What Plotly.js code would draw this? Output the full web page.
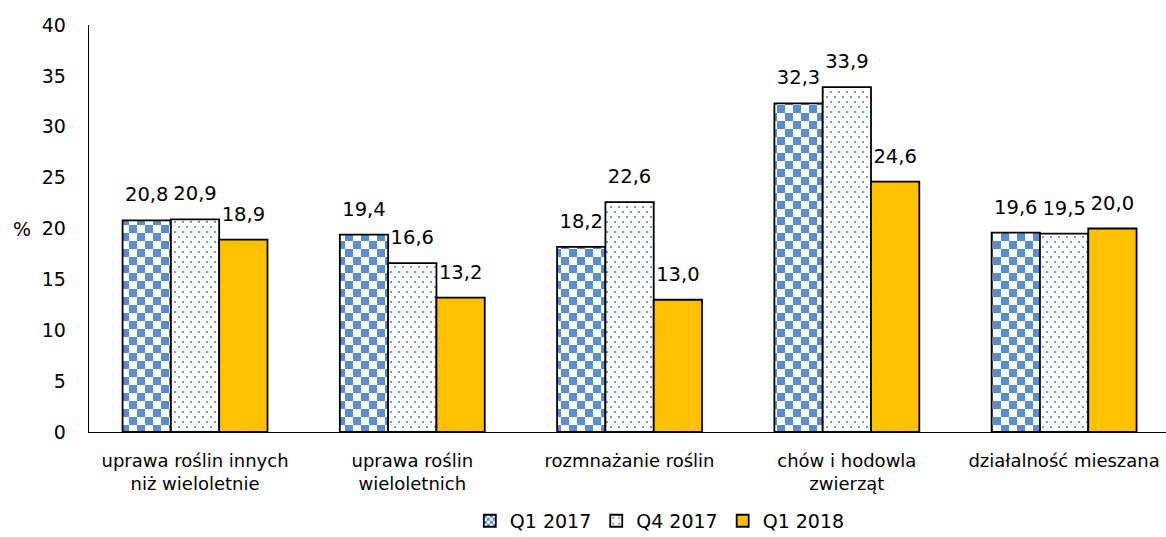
<!DOCTYPE html>
<html>
<head>
<meta charset="utf-8">
<script src="https://cdn.plot.ly/plotly-3.0.1.min.js"></script>
<style>html,body{margin:0;padding:0;background:#fff;}#chart{width:1166px;height:537px;}</style>
</head>
<body>
<div id="chart"></div>
<script>
const categories = ["uprawa roślin innych<br>niż wieloletnie", "uprawa roślin<br>wieloletnich", "rozmnażanie roślin", "chów i hodowla<br>zwierząt", "działalność mieszana"];
const seriesNames = ["Q1 2017", "Q4 2017", "Q1 2018"];
const q1_2017 = [20.8, 19.4, 18.2, 32.3, 19.6];
const q4_2017 = [20.9, 16.6, 22.6, 33.9, 19.5];
const q1_2018 = [18.9, 13.2, 13.0, 24.6, 20.0];
const yTicks = [0, 5, 10, 15, 20, 25, 30, 35, 40];

const FONT = "DejaVu Sans, Verdana, sans-serif";
const xIdx = categories.map((c, i) => i);

function bar(name, y, color) {
  return {
    type: "bar", name: name, x: xIdx, y: y,
    marker: { color: color, line: { color: "#000", width: 1.8 } },
    texttemplate: "%{y:.1f}", textposition: "outside", cliponaxis: false,
    textfont: { family: FONT, size: 19.5, color: "#000" }
  };
}

const data = [
  bar(seriesNames[0], q1_2017, "#ffffff"),
  bar(seriesNames[1], q4_2017, "#ffffff"),
  bar(seriesNames[2], q1_2018, "#ffc000")
];

const layout = {
  width: 1166, height: 537,
  margin: { l: 89, r: 0, t: 25, b: 105 },
  paper_bgcolor: "#fff", plot_bgcolor: "#fff",
  separators: ", ",
  barmode: "group", bargap: 0.333, bargroupgap: 0,
  font: { family: FONT, size: 19, color: "#000" },
  xaxis: {
    range: [-0.488, 4.469], tickvals: xIdx, ticktext: categories,
    showline: true, linecolor: "#000", linewidth: 1.3, ticks: "", showgrid: false, zeroline: false,
    tickfont: { family: FONT, size: 18, color: "#000" }, ticklabelstandoff: 12, automargin: false
  },
  yaxis: {
    range: [0, 40], tickvals: yTicks, ticktext: yTicks.map(String),
    showline: true, linecolor: "#000", linewidth: 1.3, ticks: "", showgrid: false, zeroline: false,
    tickfont: { family: FONT, size: 19, color: "#000" }, ticklabelstandoff: 18, automargin: false
  },
  showlegend: true,
  legend: {
    orientation: "h", x: 0.53, xanchor: "center", xref: "paper",
    yref: "container", y: 0.03, yanchor: "middle",
    font: { family: FONT, size: 19, color: "#000" }, itemwidth: 30, traceorder: "normal"
  },
  annotations: [{
    text: "%", xref: "paper", yref: "y", x: -0.062, y: 20, xanchor: "center", yanchor: "middle",
    showarrow: false, font: { family: FONT, size: 19, color: "#000" }
  }]
};

function addPatterns(svg) {
  const ns = "http://www.w3.org/2000/svg";
  const defs = svg.querySelector("defs");
  function mk(id, w, h, rects, bgc) {
    const pat = document.createElementNS(ns, "pattern");
    pat.setAttribute("id", id);
    pat.setAttribute("patternUnits", "userSpaceOnUse");
    pat.setAttribute("width", w); pat.setAttribute("height", h);
    const bg = document.createElementNS(ns, "rect");
    bg.setAttribute("width", w); bg.setAttribute("height", h); bg.setAttribute("fill", bgc);
    pat.appendChild(bg);
    rects.forEach(r => {
      const e = document.createElementNS(ns, "rect");
      e.setAttribute("x", r[0]); e.setAttribute("y", r[1]);
      e.setAttribute("width", r[2]); e.setAttribute("height", r[3]);
      e.setAttribute("fill", r[4]);
      pat.appendChild(e);
    });
    defs.appendChild(pat);
  }
  const blue = "#558ed5";
  mk("chk", 16, 16, [[0, 0, 8, 8, blue], [8, 8, 8, 8, blue]], "#fff");
  mk("chkSmall", 6, 6, [[0, 0, 3, 3, blue], [3, 3, 3, 3, blue]], "#fff");
  mk("dots", 8, 10, [[1, 1, 2, 2, "#6d9de0"], [5, 6, 2, 2, "#6d9de0"]], "#fff");
  mk("dotsSmall", 6, 6, [[2, 2, 2, 2, "#6d9de0"]], "#fff");
}

Plotly.newPlot("chart", data, layout, { displayModeBar: false, staticPlot: true }).then(function (gd) {
  const svg = gd.querySelector("svg.main-svg");
  addPatterns(svg);
  const traces = gd.querySelectorAll(".barlayer .trace");
  traces[0].querySelectorAll(".point path").forEach(p => { p.style.fill = "url(#chk)"; });
  traces[1].querySelectorAll(".point path").forEach(p => { p.style.fill = "url(#dots)"; });
  gd.querySelectorAll(".barlayer .bartext").forEach(t => {
    const tr = t.getAttribute("transform") || "";
    t.setAttribute("transform", "translate(0,-11) " + tr);
  });
  const legTraces = gd.querySelectorAll(".legend .traces");
  if (legTraces[0]) legTraces[0].querySelectorAll(".legendpoints path").forEach(p => { p.style.fill = "url(#chkSmall)"; });
  if (legTraces[1]) legTraces[1].querySelectorAll(".legendpoints path").forEach(p => { p.style.fill = "url(#dotsSmall)"; });
});
</script>
</body>
</html>
